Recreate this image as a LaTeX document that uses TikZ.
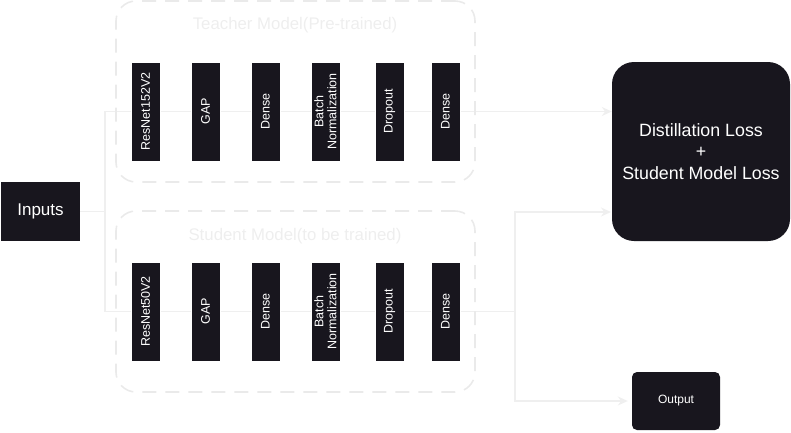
\documentclass[tikz,border=0pt]{standalone}
\usepackage{fontspec}
\setmainfont{Liberation Sans}
\usetikzlibrary{arrows.meta, positioning, backgrounds}
\definecolor{cdark}{HTML}{18161E}
\definecolor{cline}{HTML}{EFEFEF}
\definecolor{cgroup}{HTML}{EAEAEA}
\definecolor{ctitle}{HTML}{EEEEEE}
\tikzset{
  every picture/.style={x=1pt, y=-1pt},
  layer/.style={fill=cdark, draw=white, line width=0.6pt, rotate=90, minimum width=99pt, minimum height=29pt, inner sep=0pt, align=center, text=white, font=\fontsize{12.5}{13}\selectfont},
  block/.style={fill=cdark, draw=none, align=center, text=white, inner sep=0pt},
  group/.style={draw=cgroup, line width=1.6pt, dash pattern=on 14pt off 9pt, rounded corners=20pt, inner sep=0pt},
  title/.style={text=ctitle, font=\fontsize{16.8}{19}\selectfont},
  link/.style={draw=cline, line width=1.6pt},
  arrow/.style={link, -{Stealth[length=10pt, width=9pt]}},
}

\begin{document}
\begin{tikzpicture}
  \useasboundingbox (0,0) rectangle (791,432);
  % model groups
  \node[group, minimum width=359pt, minimum height=181pt] (tgroup) at (295.5,91.5) {};
  \node[group, minimum width=359pt, minimum height=181pt] (sgroup) at (295.5,301.5) {};
  \node[title] (ttitle) at (295,25) {Teacher Model(Pre-trained)};
  \node[title] (stitle) at (295,236) {Student Model(to be trained)};
  % teacher layers
  \node[layer] (t1) at (145.5,111.5) {ResNet152V2};
  \node[layer] (t2) at (205.5,111.5) {GAP};
  \node[layer] (t3) at (265.5,111.5) {Dense};
  \node[layer] (t4) at (325.5,111.5) {Batch\\Normalization};
  \node[layer] (t5) at (389.5,111.5) {Dropout};
  \node[layer] (t6) at (445.5,111.5) {Dense};
  % student layers
  \node[layer] (s1) at (145.5,311.5) {ResNet50V2};
  \node[layer] (s2) at (205.5,311.5) {GAP};
  \node[layer] (s3) at (265.5,311.5) {Dense};
  \node[layer] (s4) at (325.5,311.5) {Batch\\Normalization};
  \node[layer] (s5) at (389.5,311.5) {Dropout};
  \node[layer] (s6) at (445.5,311.5) {Dense};
  % inputs and outputs
  \node[block, minimum width=79pt, minimum height=59pt, font=\fontsize{17}{20}\selectfont] (inputs) at (40.5,211.5) {Inputs};
  \node[block, rounded corners=22pt, minimum width=178pt, minimum height=179pt, font=\fontsize{17.8}{21.5}\selectfont] (loss) at (701,151.5) {Distillation Loss\\+\\Student Model Loss};
  \node[block, rounded corners=5pt, minimum width=88pt, minimum height=58pt, font=\fontsize{12}{14}\selectfont] (output) at (676,401) {Output};
  \coordinate (split) at (105,211.5);
  \coordinate (merge) at (515,311.5);
  \coordinate (lossin) at (611,212);
  \begin{scope}[on background layer]
    \draw[link] (inputs) -- (split);
    \draw[link] (split) |- (t1);
    \draw[link] (split) |- (s1);
    \draw[link] (t1) -- (t2) -- (t3) -- (t4) -- (t5) -- (t6);
    \draw[arrow] (t6) -- (t6 -| loss.west);
    \draw[link] (s1) -- (s2) -- (s3) -- (s4) -- (s5) -- (s6) -- (merge);
    \draw[arrow] (merge) |- (lossin);
    \draw[arrow, shorten >=4pt] (merge) |- (output);
  \end{scope}
\end{tikzpicture}
\end{document}
